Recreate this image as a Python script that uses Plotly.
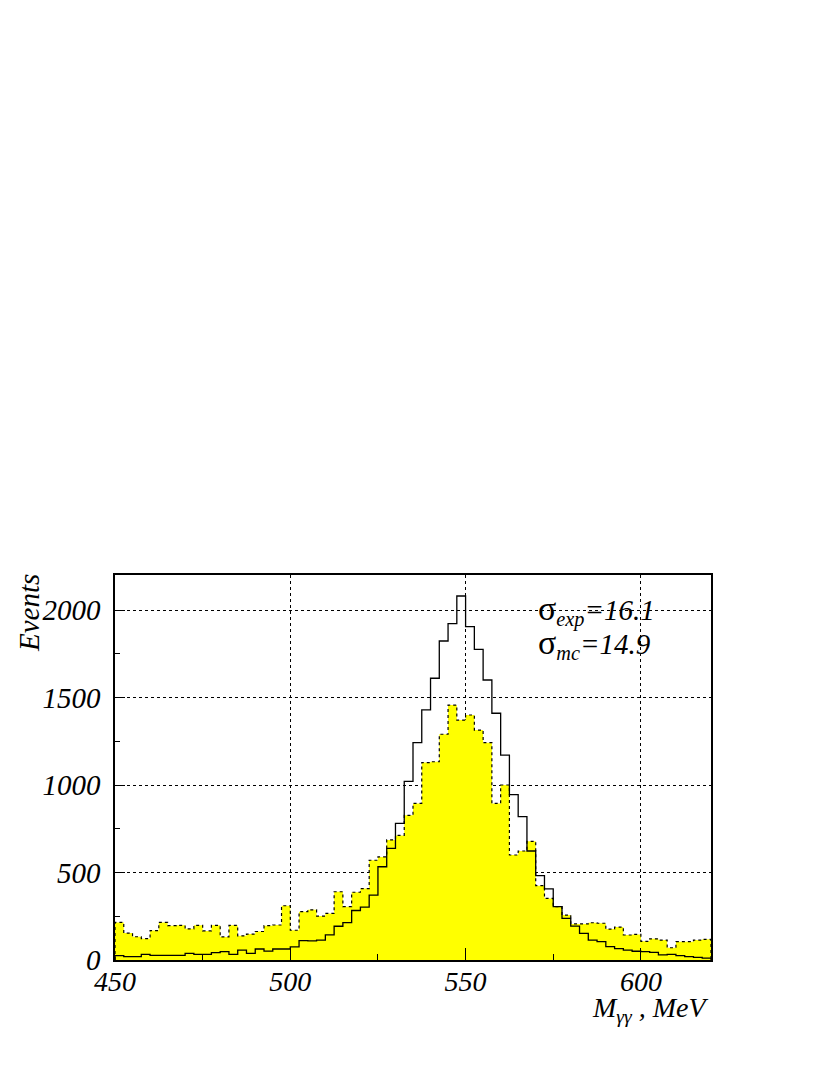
import plotly.graph_objects as go

# Histogram binning (MeV)
x_min = 450.0
bin_width = 2.5

# Experimental data (yellow, dotted outline)
exp_counts = [215, 154, 133, 122, 168, 215, 196, 198, 178, 198,
              166, 198, 132, 198, 138, 148, 163, 196, 200, 310,
              170, 276, 287, 251, 266, 390, 305, 387, 408, 570,
              589, 686, 712, 827, 895, 1128, 1133, 1290, 1457, 1371,
              1400, 1314, 1242, 895, 1000, 600, 623, 678, 425, 352,
              305, 257, 206, 206, 213, 210, 177, 188, 143, 146,
              107, 121, 114, 70, 105, 105, 114, 118]

# Monte Carlo (black solid line)
mc_counts = [25, 19, 19, 32, 27, 27, 27, 27, 38, 32,
             32, 42, 48, 32, 57, 38, 63, 51, 63, 63,
             75, 111, 109, 114, 144, 193, 214, 283, 302, 371,
             533, 638, 781, 1021, 1242, 1429, 1610, 1823, 1922, 2080,
             1905, 1775, 1600, 1410, 1171, 945, 819, 623, 482, 406,
             305, 238, 194, 152, 114, 105, 76, 65, 57, 50,
             48, 44, 29, 32, 25, 19, 15, 11]

x_ticks = [450, 500, 550, 600]
y_ticks = [0, 500, 1000, 1500, 2000]

n = len(exp_counts)
edges = [x_min + bin_width * i for i in range(n + 1)]


def step(vals):
    xs = [edges[0]] + edges + [edges[-1]]
    ys = [0] + list(vals) + [vals[-1], 0]
    return xs, ys


ex, ey = step(exp_counts)
mx, my = step(mc_counts)

fig = go.Figure()
fig.add_trace(go.Scatter(x=ex, y=ey, mode="lines", line_shape="hv",
                         fill="tozeroy", fillcolor="#ffff00",
                         line=dict(color="black", width=1.2, dash="dot"),
                         showlegend=False, hoverinfo="skip"))
fig.add_trace(go.Scatter(x=mx, y=my, mode="lines", line_shape="hv",
                         line=dict(color="black", width=1.3),
                         showlegend=False, hoverinfo="skip"))

font_fam = "Liberation Serif"

fig.update_layout(
    width=830, height=1075,
    margin=dict(l=107, r=127, t=567, b=123),
    paper_bgcolor="white", plot_bgcolor="white",
    xaxis=dict(range=[450, 620], tickvals=x_ticks, ticks="inside", ticklen=12,
               tickwidth=1, tickcolor="black",
               minor=dict(dtick=25, tick0=450, ticks="inside", ticklen=6,
                          tickcolor="black", showgrid=False),
               showgrid=True, gridcolor="black", griddash="dot", gridwidth=1,
               showline=True, linecolor="black", linewidth=1.5, mirror=True,
               zeroline=False,
               tickfont=dict(family=font_fam, size=28, color="black", style="italic"),
               ticklabelstandoff=-4),
    yaxis=dict(range=[0, 2200], tickvals=y_ticks, ticks="inside", ticklen=10,
               tickwidth=1, tickcolor="black",
               minor=dict(dtick=250, tick0=0, ticks="inside", ticklen=5,
                          tickcolor="black", showgrid=False),
               showgrid=True, gridcolor="black", griddash="dot", gridwidth=1,
               showline=True, linecolor="black", linewidth=1.5, mirror=True,
               zeroline=False,
               tickfont=dict(family=font_fam, size=29, color="black", style="italic"),
               ticklabelstandoff=7),
)

fig.add_annotation(xref="paper", yref="paper", x=-0.145, y=0.90,
                   text="<i>Events</i>", textangle=-90, showarrow=False,
                   font=dict(family=font_fam, size=29, color="black"),
                   xanchor="center", yanchor="middle")
fig.add_annotation(xref="paper", yref="paper", x=1.0, y=-0.128,
                   text="<i>M<sub>γγ</sub> , MeV</i>", showarrow=False,
                   font=dict(family=font_fam, size=28, color="black"),
                   xanchor="right", yanchor="middle")
fig.add_annotation(xref="x", yref="y", x=570.0, y=2000,
                   text="<span style='font-size:34px'>σ</span><sub><i>exp</i></sub><i>=16.1</i>",
                   showarrow=False,
                   font=dict(family=font_fam, size=29, color="black"),
                   xanchor="left", yanchor="middle")
fig.add_annotation(xref="x", yref="y", x=570.0, y=1805,
                   text="<span style='font-size:34px'>σ</span><sub><i>mc</i></sub><i>=14.9</i>",
                   showarrow=False,
                   font=dict(family=font_fam, size=29, color="black"),
                   xanchor="left", yanchor="middle")

fig.write_html("out.html")
